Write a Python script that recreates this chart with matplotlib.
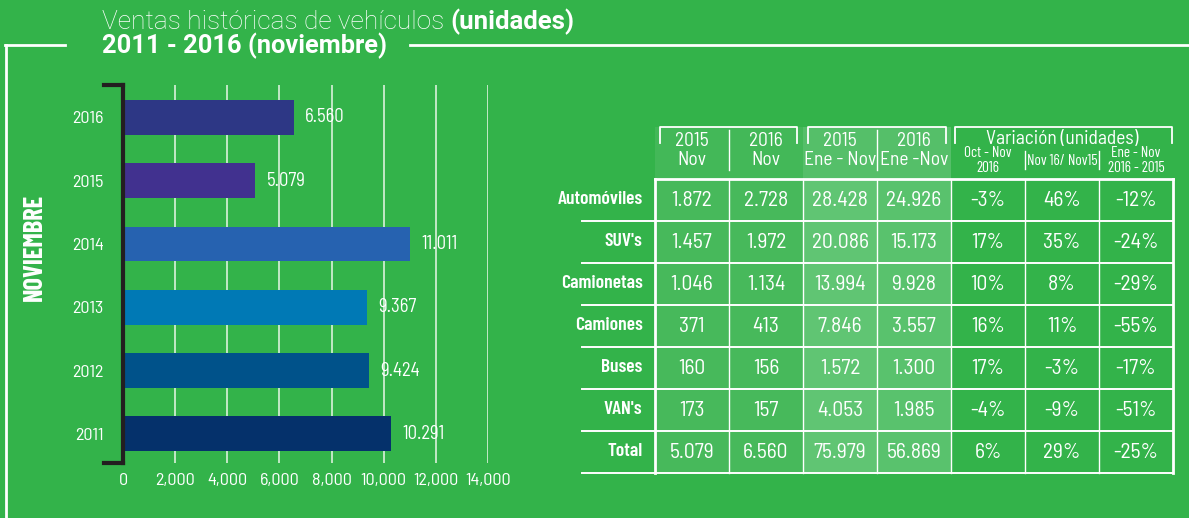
"""Ventas históricas de vehículos: bar chart for November plus summary table."""

import matplotlib

matplotlib.use("Agg")
import matplotlib.pyplot as plt
from matplotlib import font_manager as fm
from matplotlib.lines import Line2D
from matplotlib.patches import Rectangle

# ---- data -----------------------------------------------------------------
years = ["2011", "2012", "2013", "2014", "2015", "2016"]
nov_sales = [10291, 9424, 9367, 11011, 5079, 6560]
bar_colors = ["#05316b", "#00528a", "#0079b5", "#2662b0", "#41318f", "#2d3785"]
x_ticks = [0, 2000, 4000, 6000, 8000, 10000, 12000, 14000]

row_labels = ["Automóviles", "SUV's", "Camionetas", "Camiones", "Buses", "VAN's", "Total"]
nov_2015 = [1872, 1457, 1046, 371, 160, 173, 5079]
nov_2016 = [2728, 1972, 1134, 413, 156, 157, 6560]
ytd_2015 = [28428, 20086, 13994, 7846, 1572, 4053, 75979]
ytd_2016 = [24926, 15173, 9928, 3557, 1300, 1985, 56869]
var_oct_nov = [-3, 17, 10, 16, 17, -4, 6]
var_nov = [46, 35, 8, 11, -3, -9, 29]
var_ytd = [-12, -24, -29, -55, -17, -51, -25]

col_headers = ["2015\nNov", "2016\nNov", "2015\nEne - Nov", "2016\nEne -Nov"]
var_title = "Variación (unidades)"
var_headers = ["Oct - Nov\n2016", "Nov 16/ Nov15", "Ene - Nov\n2016 - 2015"]

# ---- style ----------------------------------------------------------------
BG = "#33b34a"
WHITE = "#ffffff"
GRID = "#cdeccf"
COL_FILLS = ["#47b95b", "#47b95b", "#60c573", "#59c26d", None, None, None]
HEAD_FILLS = ["#43b858", "#43b858", "#55bf69", "#55bf69"]

FIG_W, FIG_H = 1189, 518

_names = {f.name for f in fm.fontManager.ttflist}


def _pick(options, default="DejaVu Sans"):
    return next((n for n in options if n in _names), default)


COND = _pick(["Barlow Condensed", "Archivo Narrow", "Asap Condensed", "Liberation Sans"])
SEMI = _pick(["Barlow Semi Condensed", "Barlow Condensed", "Liberation Sans"])
TITLE = _pick(["Roboto", "Liberation Sans"])
plt.rcParams["font.family"] = [COND, "DejaVu Sans"]


def fx(px):
    return px / FIG_W


def fy(py):
    return 1 - py / FIG_H


def thousands(v):
    return f"{v:,}".replace(",", ".")


fig = plt.figure(figsize=(FIG_W / 100, FIG_H / 100), dpi=100, facecolor=BG)

# ---- frame and title --------------------------------------------------------
for xs, ys in [((5, 65), (45, 45)), ((410, FIG_W), (45, 45)), ((6, 6), (45, FIG_H))]:
    fig.add_artist(Line2D([fx(x) for x in xs], [fy(y) for y in ys],
                          color=WHITE, lw=2, transform=fig.transFigure))

t1 = fig.text(fx(102), fy(22), "Ventas históricas de vehículos ", color=WHITE,
              fontsize=19, family=TITLE, fontweight="light", va="center", ha="left")
fig.canvas.draw()
bb = t1.get_window_extent()
fig.text(bb.x1 / FIG_W, fy(22), "(unidades)", color=WHITE, fontsize=18.5,
         family=TITLE, fontweight="bold", va="center", ha="left")
fig.text(fx(102), fy(46), "2011 - 2016 (noviembre)", color=WHITE, fontsize=18.3,
         family=TITLE, fontweight="bold", va="center", ha="left")

# ---- bar chart ------------------------------------------------------------
ax = fig.add_axes([fx(123), fy(463), fx(488) - fx(123), (463 - 85) / FIG_H])
ax.set_facecolor("none")
ypos = list(range(len(years)))
ax.barh(ypos, nov_sales, height=0.55, color=bar_colors, zorder=2)
for y, v in zip(ypos, nov_sales):
    ax.annotate(thousands(v), (v, y), xytext=(8, 0), textcoords="offset points",
                color=WHITE, fontsize=13.5, family=SEMI, va="center", ha="left")

ax.set_xlim(0, 14000)
ax.set_ylim(-0.46, 5.51)
ax.set_xticks(x_ticks)
ax.set_xticklabels([f"{t:,}" for t in x_ticks], family=SEMI)
ax.set_yticks(ypos)
ax.set_yticklabels(years, family=SEMI)
ax.tick_params(axis="x", length=0, pad=7, colors=WHITE, labelsize=13)
ax.tick_params(axis="y", length=0, pad=14, colors=WHITE, labelsize=13)
ax.grid(axis="x", color=GRID, lw=1.3, zorder=0)
ax.set_axisbelow(True)
for side in ("top", "right", "bottom"):
    ax.spines[side].set_visible(False)
ax.spines["left"].set_color("#231f20")
ax.spines["left"].set_linewidth(3)
ax.spines["left"].set_zorder(5)
for yb in (0, 1):
    ax.plot([-0.052, 0], [yb, yb], transform=ax.transAxes, color="#231f20",
            lw=3, clip_on=False, solid_capstyle="projecting", zorder=5)

fig.text(fx(35), fy(247), "NOVIEMBRE", rotation=90, color=WHITE, fontsize=19,
         fontweight="bold", va="center", ha="center")

# ---- table ----------------------------------------------------------------
ROW_H = 42
tax = fig.add_axes([fx(655), fy(480), fx(1173) - fx(655), (480 - 120) / FIG_H])
tax.set_xlim(0, 7)
tax.set_ylim((480 - 179) / ROW_H, (120 - 179) / ROW_H)
tax.axis("off")

columns = [
    [thousands(v) for v in nov_2015],
    [thousands(v) for v in nov_2016],
    [thousands(v) for v in ytd_2015],
    [thousands(v) for v in ytd_2016],
    [f"{v}%" for v in var_oct_nov],
    [f"{v}%" for v in var_nov],
    [f"{v}%" for v in var_ytd],
]
n_rows = len(row_labels)
n_cols = len(columns)
head_top = -1.24

for c, fill in enumerate(HEAD_FILLS):
    tax.add_patch(Rectangle((c, head_top), 1, -head_top, facecolor=fill, lw=0, zorder=0))
for c, fill in enumerate(COL_FILLS):
    if fill:
        tax.add_patch(Rectangle((c, 0), 1, n_rows, facecolor=fill, lw=0, zorder=0))

for c, col in enumerate(columns):
    for r, txt in enumerate(col):
        tax.text(c + 0.5, r + 0.5, txt, color=WHITE, fontsize=15.5, family=SEMI,
                 ha="center", va="center")
for r, lab in enumerate(row_labels):
    tax.text(-0.17, r + 0.5, lab, color=WHITE, fontsize=14, fontweight="semibold",
             ha="right", va="center")

# grid lines
for r in range(1, n_rows + 1):
    tax.plot([-0.99, n_cols], [r, r], color=WHITE, lw=1.4, clip_on=False, zorder=3)
tax.plot([0, n_cols], [0, 0], color=WHITE, lw=2, clip_on=False, zorder=3)
for c in range(n_cols + 1):
    lw = 2 if c in (0, n_cols) else 1
    tax.plot([c, c], [0, n_rows], color=WHITE, lw=lw, clip_on=False, zorder=3)

# column headers
for c, txt in enumerate(col_headers):
    tax.text(c + 0.5, -0.68, txt, color=WHITE, fontsize=14, family=SEMI,
             ha="center", va="center", linespacing=1.1)
for c in (1, 3):
    tax.plot([c, c], [-1.17, -0.21], color=WHITE, lw=1, clip_on=False)

# group brackets
for x0, x1 in [(0.07, 1.92), (2.07, 3.93), (4.05, 6.98)]:
    tax.plot([x0, x0, x1, x1], [-0.86, head_top, head_top, -0.86], color=WHITE,
             lw=1.3, clip_on=False)

tax.text(5.5, -0.95, var_title, color=WHITE, fontsize=14, family=SEMI,
         ha="center", va="center")
for c, txt in enumerate(var_headers):
    tax.text(4 + c + 0.5, -0.43, txt, color=WHITE, fontsize=11,
             ha="center", va="center", linespacing=1.1)
for c in (5, 6):
    tax.plot([c, c], [-0.67, -0.24], color=WHITE, lw=1, clip_on=False)

fig.savefig("out.png", dpi=100, facecolor=BG)
